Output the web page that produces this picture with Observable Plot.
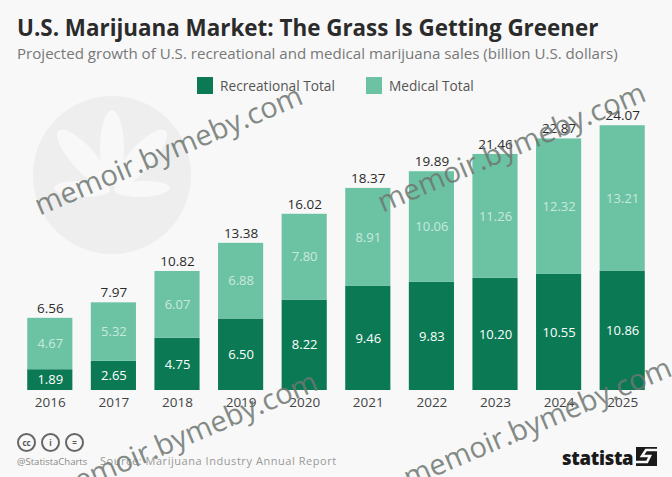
<!DOCTYPE html>
<html>
<head>
<meta charset="utf-8">
<script src="https://cdn.jsdelivr.net/npm/d3@7"></script>
<script src="https://cdn.jsdelivr.net/npm/@observablehq/plot@0.6"></script>
<style>
html,body{margin:0;padding:0;background:#f8f8f8;}
#page{position:relative;width:672px;height:477px;overflow:hidden;font-family:"Open Sans",sans-serif;background:#f8f8f8;}
#head{height:100px;position:relative;}
#title{position:absolute;left:17px;top:12px;font-size:22.4px;font-weight:700;color:#2b2b2b;white-space:nowrap;}
#sub{position:absolute;left:17px;top:43px;font-size:15.1px;color:#777;white-space:nowrap;}
.lg{position:absolute;top:77px;font-size:13.7px;color:#555;white-space:nowrap;height:18px;line-height:18px;}
.lg i{display:inline-block;width:16px;height:17px;vertical-align:top;margin-right:7px;}
#chart{position:absolute;left:0;top:100px;}
.wm{position:absolute;font-family:"Open Sans",sans-serif;font-size:29px;color:#6f7773;opacity:.85;white-space:nowrap;transform-origin:0 100%;transform:rotate(-23deg);pointer-events:none;}
#leaf{position:absolute;left:0;top:0;}
#cc{position:absolute;left:17px;top:433px;display:flex;gap:5px;}
#cc span{display:block;width:15px;height:15px;border:2px solid #666;border-radius:50%;font-size:8px;line-height:15px;text-align:center;color:#555;font-weight:700;}
#handle{position:absolute;left:17px;top:455px;font-size:9.5px;color:#888;}
#src{position:absolute;left:100px;top:453px;font-size:11px;letter-spacing:.55px;color:#999;white-space:nowrap;}
#logo{position:absolute;left:562px;top:445px;font-size:18.5px;font-weight:800;color:#1a1a1a;letter-spacing:-.3px;}
#mark{position:absolute;left:636px;top:447px;}
</style>
</head>
<body>
<div id="page">
  <svg id="leaf" width="672" height="300">
    <circle cx="112" cy="175" r="79" fill="#eeeeee"/>
    <g fill="#f8f8f8">
      <ellipse cx="112" cy="148" rx="12" ry="38"/>
      <ellipse cx="112" cy="148" rx="12" ry="38" transform="rotate(-42 112 190)"/>
      <ellipse cx="112" cy="148" rx="12" ry="38" transform="rotate(42 112 190)"/>
      <ellipse cx="112" cy="160" rx="8" ry="28" transform="rotate(-88 112 190)"/>
      <ellipse cx="112" cy="160" rx="8" ry="28" transform="rotate(88 112 190)"/>
    </g>
  </svg>
  <div id="head">
    <div id="title">U.S. Marijuana Market: The Grass Is Getting Greener</div>
    <div id="sub">Projected growth of U.S. recreational and medical marijuana sales (billion U.S. dollars)</div>
    <div class="lg" style="left:197px"><i style="background:#0b7a54"></i>Recreational Total</div>
    <div class="lg" style="left:366px"><i style="background:#6cc3a4"></i>Medical Total</div>
  </div>
  <div id="chart"></div>
  <div id="cc"><span>cc</span><span>i</span><span>=</span></div>
  <div id="handle">@StatistaCharts</div>
  <div id="src">Source: Marijuana Industry Annual Report</div>
  <div id="logo">statista</div>
  <svg id="mark" width="21" height="19"><rect width="21" height="19" fill="#1a1a1a"/><path d="M21 3 L10 3 L6 9 L14 9 L11 15 L0 15" fill="none" stroke="#f8f8f8" stroke-width="2.5"/></svg>
  <div class="wm" style="left:43px;top:184px">memoir.bymeby.com</div>
  <div class="wm" style="left:386px;top:181px">memoir.bymeby.com</div>
  <div class="wm" style="left:58px;top:470px">memoir.bymeby.com</div>
  <div class="wm" style="left:412px;top:456px">memoir.bymeby.com</div>
</div>
<script>
const years = ["2016","2017","2018","2019","2020","2021","2022","2023","2024","2025"];
const recreational = [1.89,2.65,4.75,6.50,8.22,9.46,9.83,10.20,10.55,10.86];
const medical = [4.67,5.32,6.07,6.88,7.80,8.91,10.06,11.26,12.32,13.21];
const totals = [6.56,7.97,10.82,13.38,16.02,18.37,19.89,21.46,22.87,24.07];
const seriesNames = ["Recreational Total","Medical Total"];
const seriesColors = ["#0b7a54","#6cc3a4"];

const rows = [
  ...years.map((year,i)=>({year,series:seriesNames[0],value:recreational[i]})),
  ...years.map((year,i)=>({year,series:seriesNames[1],value:medical[i]}))
];
const totalRows = years.map((year,i)=>({year,total:totals[i]}));

const chart = Plot.plot({
  width:672,height:320,marginTop:4,marginBottom:30,marginLeft:18,marginRight:18,
  style:{background:"transparent",fontFamily:"'Open Sans',sans-serif"},
  x:{domain:years,paddingInner:0.29,paddingOuter:0.145,round:false,label:null},
  y:{domain:[0,26],axis:null},
  color:{domain:seriesNames,range:seriesColors},
  marks:[
    Plot.axisX({tickSize:0,tickPadding:7,fontSize:13.5,fill:"#444",label:null}),
    Plot.barY(rows,{x:"year",y:"value",z:"series",fill:"series",order:null}),
    Plot.text(rows,Plot.stackY({x:"year",y:"value",z:"series",order:null,text:d=>d.value.toFixed(2),fill:"#fff",fontSize:13,fillOpacity:d=>d.series===seriesNames[0]?1:0.65})),
    Plot.text(totalRows,{x:"year",y:"total",text:d=>d.total.toFixed(2),dy:-10,fontSize:13.5,fontWeight:500,fill:"#2b2b2b"})
  ]
});
document.getElementById("chart").appendChild(chart);
</script>
</body>
</html>
